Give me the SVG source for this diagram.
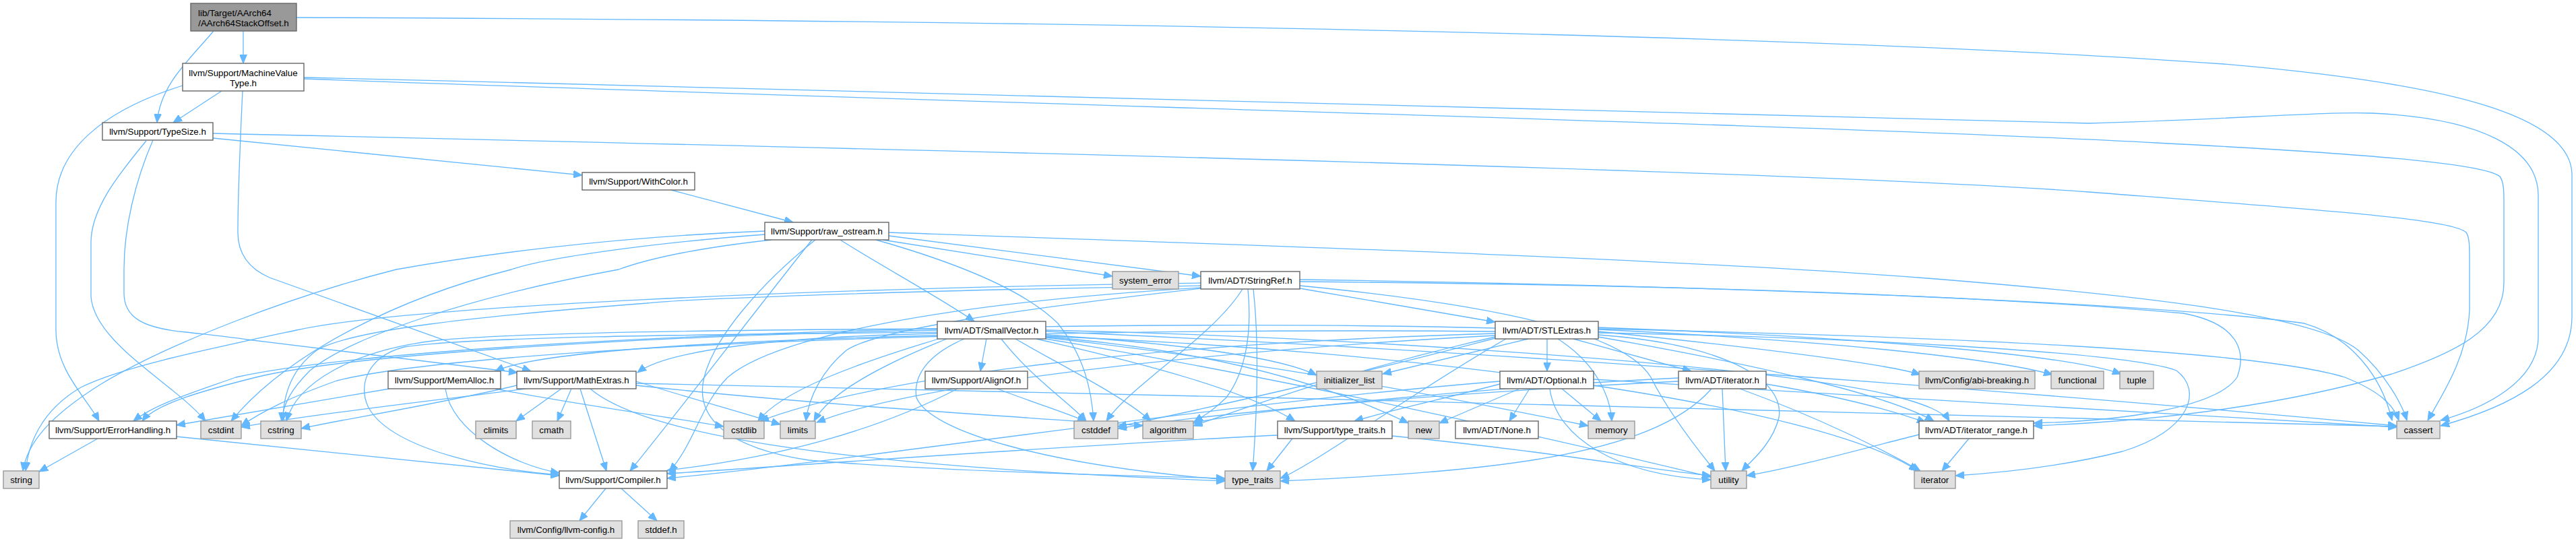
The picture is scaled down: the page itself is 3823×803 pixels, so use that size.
<svg xmlns="http://www.w3.org/2000/svg" width="3823" height="803" viewBox="0 0 3823 803">
<defs>
<style>
.n rect{fill:#ffffff;stroke:#666666;stroke-width:1.4}
.g rect{fill:#e0e0e0;stroke:#999999;stroke-width:1.4}
.r rect{fill:#999999;stroke:#666666;stroke-width:1.4}
text{font-family:"Liberation Sans",Arial,Helvetica,sans-serif;font-size:13.33px;text-anchor:middle;fill:#000000}
.e path{fill:none;stroke:#63b8ff;stroke-width:1.3;marker-end:url(#a)}
</style>
<marker id="a" markerUnits="userSpaceOnUse" markerWidth="14" markerHeight="11" refX="13" refY="5.5" orient="auto"><path d="M0,0 L13,5.5 L0,11 z" fill="#63b8ff" stroke="#63b8ff" stroke-width="1"/></marker>
</defs>
<rect x="0" y="0" width="3823" height="803" fill="#ffffff"/>
<g id="edges" class="e">
<path d="M361,46 L361,94"/>
<path d="M317,46 C280,90 238,125 233,182"/>
<path d="M440,26 C1600,30 2700,52 3300,95 C3650,125 3817,175 3817,260 L3817,470 C3817,560 3720,605 3622,632"/>
<path d="M329,135 L257,182"/>
<path d="M271,127 C150,165 83,225 83,300 L83,490 C83,550 128,590 147,625"/>
<path d="M360,135 C356,220 353,300 353,345 C353,375 368,398 400,412 L788,551"/>
<path d="M451,115 C1500,140 2600,165 3100,183 C3300,178 3450,165 3520,168 C3680,175 3767,220 3767,290 L3767,500 C3767,565 3690,605 3622,624"/>
<path d="M451,117 C1500,155 2700,185 3200,212 C3550,230 3690,245 3710,262 C3716,270 3716,285 3716,300 L3716,420 C3716,490 3640,525 3550,555 C3350,612 3150,627 3018,632"/>
<path d="M316,205 L864,260"/>
<path d="M316,198 C1500,225 2700,255 3100,285 C3450,312 3640,325 3660,345 C3665,352 3665,365 3665,390 L3665,460 C3662,530 3625,585 3603,624"/>
<path d="M227,208 C200,270 184,340 184,400 L184,435 C184,470 210,487 276,493 C320,498 340,500 367,504 L768,553"/>
<path d="M217,209 C175,260 135,310 135,360 L135,440 C140,510 260,570 305,625"/>
<path d="M996,282 L1177,330"/>
<path d="M1247,356 C1300,390 1400,445 1446,477"/>
<path d="M1310,356 L1651,410"/>
<path d="M1319,350 L1782,410"/>
<path d="M1319,345 C1900,365 2500,385 2860,413 C3200,440 3440,470 3500,520 C3540,555 3565,600 3572,624"/>
<path d="M1135,343 C900,352 700,380 588,400 C430,440 250,510 150,570 C70,620 40,660 34,699"/>
<path d="M1135,348 C950,362 800,385 759,400 C600,440 430,520 343,625"/>
<path d="M1145,356 C1000,372 940,392 918,400 C700,440 520,500 460,550 C432,578 420,600 418,625"/>
<path d="M1210,356 C1130,420 1060,500 1045,560 C1030,620 1080,665 1200,683 C1400,700 1650,705 1818,710"/>
<path d="M1300,356 C1420,390 1520,430 1570,480 C1610,530 1620,580 1623,625"/>
<path d="M1205,356 C1130,450 1000,620 935,699"/>
<path d="M1929,428 L2219,478"/>
<path d="M1929,418 C2400,422 2900,435 3240,465 C3320,480 3335,520 3320,560 C3290,605 3150,625 3018,628"/>
<path d="M1929,415 C2600,425 3200,450 3420,480 C3490,500 3535,560 3550,624"/>
<path d="M1844,429 C1800,500 1680,570 1642,625"/>
<path d="M1860,429 C1870,520 1865,620 1859,699"/>
<path d="M1852,429 C1858,490 1850,550 1820,590 C1800,610 1785,618 1772,626"/>
<path d="M1783,428 C1500,460 1300,490 1256,520 C1220,550 1200,590 1196,625"/>
<path d="M1782,424 C1300,432 1000,445 960,450 C700,470 520,490 470,520 C430,550 420,590 420,625"/>
<path d="M1782,420 C1200,428 600,455 440,490 C300,520 180,545 120,575 C60,610 42,660 38,699"/>
<path d="M1782,427 C1400,450 1150,500 1080,560 C1040,600 1030,660 993,700"/>
<path d="M1929,424 C2300,460 2420,510 2450,560 C2480,620 2530,680 2545,699"/>
<path d="M1464,503 L1455,551"/>
<path d="M1486,503 C1530,560 1590,600 1612,625"/>
<path d="M1507,503 C1580,545 1670,590 1708,625"/>
<path d="M1538,503 C1700,540 1850,580 1922,625"/>
<path d="M1431,503 C1380,525 1355,555 1360,590 C1380,640 1550,690 1818,712"/>
<path d="M1393,503 C1270,540 1160,580 1125,625"/>
<path d="M1405,503 C1300,545 1230,585 1208,625"/>
<path d="M1391,495 C1150,500 990,520 946,553"/>
<path d="M1391,498 C1100,505 800,520 735,551"/>
<path d="M1391,490 C900,500 500,530 380,560 C300,580 230,600 211,625"/>
<path d="M1391,493 C1000,497 700,500 600,515 C540,530 530,580 550,610 C590,670 740,698 830,705"/>
<path d="M1391,488 C1000,490 750,495 650,505 C520,520 440,570 425,625"/>
<path d="M1552,490 C2000,500 2600,540 2800,585 C2860,600 2885,612 2893,625"/>
<path d="M1552,492 C2200,520 3000,580 3557,632"/>
<path d="M1552,497 C1750,510 1900,530 1954,557"/>
<path d="M1552,499 C2100,520 2700,600 2846,699"/>
<path d="M1552,501 C1900,540 2200,600 2357,632"/>
<path d="M1552,500 C1800,520 1970,570 2090,628"/>
<path d="M1552,503 C1900,560 2300,650 2539,708"/>
<path d="M2296,503 L2296,551"/>
<path d="M2335,503 L2510,551"/>
<path d="M2312,503 C2370,540 2390,590 2392,625"/>
<path d="M2268,503 L2052,555"/>
<path d="M2372,492 C2600,515 2800,540 2850,556"/>
<path d="M2372,489 C2700,505 2950,530 3046,556"/>
<path d="M2372,486 C2750,500 3060,525 3148,555"/>
<path d="M2372,488 C2900,500 3350,520 3480,560 C3530,580 3552,600 3560,624"/>
<path d="M2372,500 C2600,540 2800,585 2870,625"/>
<path d="M2372,494 C2700,500 3150,520 3230,550 C3270,580 3250,640 3150,670 C3050,695 2950,703 2902,706"/>
<path d="M2372,497 C2550,510 2650,560 2640,620 C2630,660 2598,685 2585,699"/>
<path d="M2219,487 C1500,470 600,505 350,560 C280,585 230,600 198,625"/>
<path d="M2219,500 C2000,550 1850,605 1771,632"/>
<path d="M2219,502 C2000,560 1750,615 1659,633"/>
<path d="M2219,492 C1500,485 700,515 500,565 C430,590 390,610 358,632"/>
<path d="M2219,495 C1700,510 1300,560 1128,625"/>
<path d="M2219,498 C1800,520 1350,570 1212,627"/>
<path d="M2235,503 C2100,580 1950,690 1900,710"/>
<path d="M2270,577 L2240,625"/>
<path d="M2255,577 L2136,628"/>
<path d="M2318,577 L2376,625"/>
<path d="M2300,577 C2310,650 2400,705 2539,712"/>
<path d="M2226,570 C2150,590 2060,610 2010,625"/>
<path d="M2226,566 C1800,600 1300,680 990,710"/>
<path d="M2365,563 C2800,590 3300,620 3557,634"/>
<path d="M2556,577 L2561,699"/>
<path d="M2582,577 C2700,620 2800,670 2850,699"/>
<path d="M2621,570 C2740,590 2810,610 2858,627"/>
<path d="M2540,577 C2450,680 2200,700 1900,714"/>
<path d="M2491,566 C2200,580 1800,612 1659,636"/>
<path d="M2491,561 C2200,575 1850,610 1771,628"/>
<path d="M2922,651 L2882,699"/>
<path d="M2848,645 C2750,670 2650,697 2592,706"/>
<path d="M1896,646 C1600,660 1200,690 990,703"/>
<path d="M1918,651 L1880,699"/>
<path d="M2066,647 C2300,670 2450,697 2539,706"/>
<path d="M833,577 L766,625"/>
<path d="M848,577 L827,625"/>
<path d="M861,577 L900,699"/>
<path d="M780,577 C600,600 450,617 358,634"/>
<path d="M767,572 C650,600 510,622 447,636"/>
<path d="M876,577 C950,640 1200,690 1818,714"/>
<path d="M944,566 C1020,590 1100,612 1158,630"/>
<path d="M944,572 C1200,600 1500,618 1696,632"/>
<path d="M944,569 C1800,590 3000,612 3557,633"/>
<path d="M578,577 L262,631"/>
<path d="M661,577 C670,640 760,690 830,702"/>
<path d="M735,577 C850,600 1000,620 1074,633"/>
<path d="M145,651 L58,700"/>
<path d="M262,648 L830,706"/>
<path d="M899,725 L860,773"/>
<path d="M922,725 L975,773"/>
<path d="M1421,577 C1300,640 1150,680 990,698"/>
<path d="M1480,577 C1540,600 1590,615 1612,626"/>
</g>
<g id="n_root" class="r"><rect x="283" y="5" width="157" height="41"/><text x="294" y="23.5" style="text-anchor:start">lib/Target/AArch64</text><text x="361.5" y="38.5">/AArch64StackOffset.h</text></g>
<g id="n_mvt" class="n"><rect x="271" y="94" width="180" height="41"/><text x="361" y="112.5">llvm/Support/MachineValue</text><text x="361" y="127.5">Type.h</text></g>
<g id="n_ts" class="n"><rect x="152" y="182" width="164" height="26"/><text x="234" y="199.5">llvm/Support/TypeSize.h</text></g>
<g id="n_wc" class="n"><rect x="864" y="256" width="167" height="26"/><text x="947.5" y="273.5">llvm/Support/WithColor.h</text></g>
<g id="n_ro" class="n"><rect x="1135" y="330" width="184" height="26"/><text x="1227" y="347.5">llvm/Support/raw_ostream.h</text></g>
<g id="n_se" class="g"><rect x="1651" y="403" width="98" height="26"/><text x="1700" y="420.5">system_error</text></g>
<g id="n_sr" class="n"><rect x="1782" y="403" width="147" height="26"/><text x="1855.5" y="420.5">llvm/ADT/StringRef.h</text></g>
<g id="n_sv" class="n"><rect x="1391" y="477" width="161" height="26"/><text x="1471.5" y="494.5">llvm/ADT/SmallVector.h</text></g>
<g id="n_stl" class="n"><rect x="2219" y="477" width="153" height="26"/><text x="2295.5" y="494.5">llvm/ADT/STLExtras.h</text></g>
<g id="n_ma" class="n"><rect x="576" y="551" width="167" height="26"/><text x="659.5" y="568.5">llvm/Support/MemAlloc.h</text></g>
<g id="n_me" class="n"><rect x="767" y="551" width="177" height="26"/><text x="855.5" y="568.5">llvm/Support/MathExtras.h</text></g>
<g id="n_ao" class="n"><rect x="1373" y="551" width="152" height="26"/><text x="1449" y="568.5">llvm/Support/AlignOf.h</text></g>
<g id="n_il" class="g"><rect x="1954" y="551" width="97" height="26"/><text x="2002.5" y="568.5">initializer_list</text></g>
<g id="n_op" class="n"><rect x="2226" y="551" width="139" height="26"/><text x="2295.5" y="568.5">llvm/ADT/Optional.h</text></g>
<g id="n_it" class="n"><rect x="2491" y="551" width="130" height="26"/><text x="2556" y="568.5">llvm/ADT/iterator.h</text></g>
<g id="n_abi" class="g"><rect x="2848" y="551" width="172" height="26"/><text x="2934" y="568.5">llvm/Config/abi-breaking.h</text></g>
<g id="n_fn" class="g"><rect x="3044" y="551" width="78" height="26"/><text x="3083" y="568.5">functional</text></g>
<g id="n_tu" class="g"><rect x="3146" y="551" width="50" height="26"/><text x="3171" y="568.5">tuple</text></g>
<g id="n_eh" class="n"><rect x="73" y="625" width="189" height="26"/><text x="167.5" y="642.5">llvm/Support/ErrorHandling.h</text></g>
<g id="n_ci" class="g"><rect x="298" y="625" width="60" height="26"/><text x="328" y="642.5">cstdint</text></g>
<g id="n_cs" class="g"><rect x="387" y="625" width="60" height="26"/><text x="417" y="642.5">cstring</text></g>
<g id="n_cl" class="g"><rect x="706" y="625" width="60" height="26"/><text x="736" y="642.5">climits</text></g>
<g id="n_cm" class="g"><rect x="790" y="625" width="57" height="26"/><text x="818.5" y="642.5">cmath</text></g>
<g id="n_csl" class="g"><rect x="1074" y="625" width="60" height="26"/><text x="1104" y="642.5">cstdlib</text></g>
<g id="n_li" class="g"><rect x="1158" y="625" width="52" height="26"/><text x="1184" y="642.5">limits</text></g>
<g id="n_cd" class="g"><rect x="1594" y="625" width="65" height="26"/><text x="1626.5" y="642.5">cstddef</text></g>
<g id="n_al" class="g"><rect x="1696" y="625" width="75" height="26"/><text x="1733.5" y="642.5">algorithm</text></g>
<g id="n_tt" class="n"><rect x="1896" y="625" width="170" height="26"/><text x="1981" y="642.5">llvm/Support/type_traits.h</text></g>
<g id="n_nw" class="g"><rect x="2090" y="625" width="46" height="26"/><text x="2113" y="642.5">new</text></g>
<g id="n_no" class="n"><rect x="2160" y="625" width="123" height="26"/><text x="2221.5" y="642.5">llvm/ADT/None.h</text></g>
<g id="n_mem" class="g"><rect x="2357" y="625" width="69" height="26"/><text x="2391.5" y="642.5">memory</text></g>
<g id="n_ir" class="n"><rect x="2848" y="625" width="170" height="26"/><text x="2933" y="642.5">llvm/ADT/iterator_range.h</text></g>
<g id="n_ca" class="g"><rect x="3557" y="625" width="64" height="26"/><text x="3589" y="642.5">cassert</text></g>
<g id="n_str" class="g"><rect x="5" y="699" width="53" height="26"/><text x="31.5" y="716.5">string</text></g>
<g id="n_co" class="n"><rect x="830" y="699" width="160" height="26"/><text x="910" y="716.5">llvm/Support/Compiler.h</text></g>
<g id="n_ty" class="g"><rect x="1818" y="699" width="82" height="26"/><text x="1859" y="716.5">type_traits</text></g>
<g id="n_ut" class="g"><rect x="2539" y="699" width="53" height="26"/><text x="2565.5" y="716.5">utility</text></g>
<g id="n_itr" class="g"><rect x="2841" y="699" width="61" height="26"/><text x="2871.5" y="716.5">iterator</text></g>
<g id="n_cfg" class="g"><rect x="757" y="773" width="166" height="26"/><text x="840" y="790.5">llvm/Config/llvm-config.h</text></g>
<g id="n_sd" class="g"><rect x="947" y="773" width="68" height="26"/><text x="981" y="790.5">stddef.h</text></g>
</svg>
